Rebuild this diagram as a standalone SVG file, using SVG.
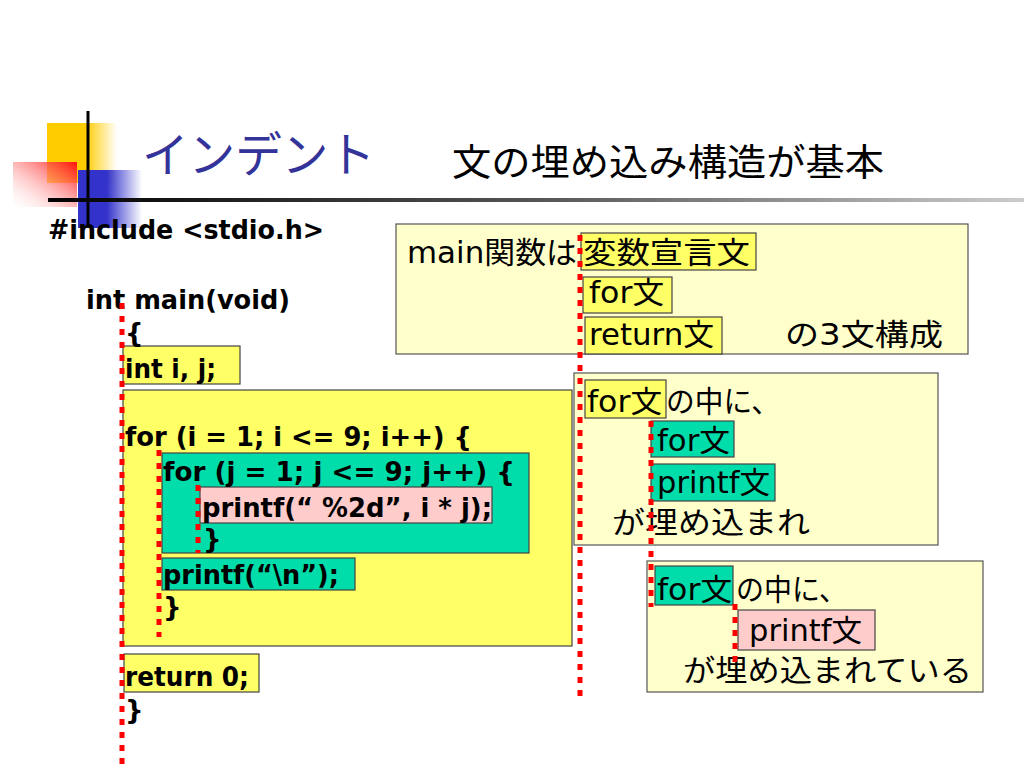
<svg xmlns="http://www.w3.org/2000/svg" width="1024" height="768" viewBox="0 0 1024 768">
<defs>
<linearGradient id="gY" x1="0" y1="0" x2="1" y2="0"><stop offset="0.55" stop-color="#FFCC00"/><stop offset="1" stop-color="#FFCC00" stop-opacity="0"/></linearGradient>
<linearGradient id="gR" x1="1" y1="0" x2="0" y2="1"><stop offset="0" stop-color="#FF1010"/><stop offset="1" stop-color="#FFFFFF" stop-opacity="0.2"/></linearGradient>
<linearGradient id="gB" x1="0" y1="0" x2="1" y2="0"><stop offset="0.45" stop-color="#3333CC"/><stop offset="1" stop-color="#3333CC" stop-opacity="0"/></linearGradient>
<linearGradient id="gL" x1="0" y1="0" x2="1" y2="0"><stop offset="0" stop-color="#000000"/><stop offset="0.5" stop-color="#555555"/><stop offset="1" stop-color="#CCCCCC"/></linearGradient>
<style>
.code{font-family:"DejaVu Sans","Liberation Sans",sans-serif;font-weight:bold;font-size:26px;fill:#000}
.jp{font-family:"DejaVu Sans","Noto Sans CJK JP",sans-serif;font-size:30px;fill:#000}
.jpo{font-family:"Noto Sans CJK JP",sans-serif;font-size:30px;fill:#000}
.note{fill:#FFFFCC;stroke:#555;stroke-width:1.2}
.yel{fill:#FFFF66;stroke:#444;stroke-width:1.2}
.grn{fill:#00DDAA;stroke:#444;stroke-width:1.2}
.pnk{fill:#FFCCCC;stroke:#444;stroke-width:1.2}
.dot{stroke:#FF0000;stroke-width:5;stroke-dasharray:6 7;fill:none}
</style>
</defs>
<rect width="1024" height="768" fill="#FFFFFF"/>

<g id="title-deco">
<rect x="47" y="123" width="70" height="60" fill="url(#gY)"/>
<rect x="78" y="170" width="64" height="58" fill="url(#gB)"/>
<rect x="13" y="162" width="64" height="45" fill="url(#gR)"/>
<line x1="88" y1="111" x2="88" y2="225" stroke="#000" stroke-width="3"/>
<rect x="48" y="198" width="976" height="4" fill="url(#gL)"/>
</g>
<g id="title">
<text x="142" y="172" font-family="'Noto Sans CJK JP',sans-serif" font-size="48" fill="#333399" textLength="233" lengthAdjust="spacingAndGlyphs">インデント</text>
<text x="452" y="176" font-family="'Noto Sans CJK JP',sans-serif" font-size="37" fill="#000" textLength="432" lengthAdjust="spacingAndGlyphs">文の埋め込み構造が基本</text>
</g>

<g id="code">
<rect class="yel" x="123" y="346" width="117" height="38"/>
<rect class="yel" x="123" y="390" width="449" height="256"/>
<rect class="grn" x="162" y="453" width="367" height="100"/>
<rect class="pnk" x="200" y="487" width="292" height="36"/>
<rect class="grn" x="162" y="558" width="193" height="32"/>
<rect class="yel" x="124" y="654" width="135" height="38"/>
<text class="code" x="48" y="239" textLength="276" lengthAdjust="spacingAndGlyphs">#include &lt;stdio.h&gt;</text>
<text class="code" x="86" y="309" textLength="204" lengthAdjust="spacingAndGlyphs">int main(void)</text>
<text class="code" x="125" y="342">{</text>
<text class="code" x="125" y="378" textLength="91" lengthAdjust="spacingAndGlyphs">int i, j;</text>
<text class="code" x="125" y="446" textLength="347" lengthAdjust="spacingAndGlyphs">for (i = 1; i &lt;= 9; i++) {</text>
<text class="code" x="163" y="481" textLength="352" lengthAdjust="spacingAndGlyphs">for (j = 1; j &lt;= 9; j++) {</text>
<text class="code" x="202" y="517" textLength="290" lengthAdjust="spacingAndGlyphs">printf(“ %2d”, i * j);</text>
<text class="code" x="203" y="548">}</text>
<text class="code" x="163" y="584" textLength="176" lengthAdjust="spacingAndGlyphs">printf(“\n”);</text>
<text class="code" x="163" y="616">}</text>
<text class="code" x="125" y="686" textLength="124" lengthAdjust="spacingAndGlyphs">return 0;</text>
<text class="code" x="125" y="719">}</text>
</g>

<g id="note-main">
<rect class="note" x="396" y="224" width="572" height="130"/>
<rect class="yel" x="581" y="233" width="175" height="37"/>
<rect class="yel" x="583" y="277" width="89" height="36"/>
<rect class="yel" x="585" y="317" width="137" height="37"/>
<text class="jp" x="407" y="263" textLength="170" lengthAdjust="spacingAndGlyphs">main関数は</text>
<text class="jpo" x="583" y="263" textLength="167" lengthAdjust="spacingAndGlyphs">変数宣言文</text>
<text class="jp" x="589" y="303" textLength="75" lengthAdjust="spacingAndGlyphs">for文</text>
<text class="jp" x="589" y="345" textLength="125" lengthAdjust="spacingAndGlyphs">return文</text>
<text class="jp" x="785" y="345" textLength="158" lengthAdjust="spacingAndGlyphs">の3文構成</text>
</g>

<g id="note-for1">
<rect class="note" x="574" y="373" width="364" height="172"/>
<rect class="yel" x="585" y="380" width="81" height="38"/>
<rect class="grn" x="651" y="421" width="83" height="36"/>
<rect class="grn" x="651" y="464" width="124" height="37"/>
<text class="jp" x="587" y="412" textLength="75" lengthAdjust="spacingAndGlyphs">for文</text>
<text class="jpo" x="666" y="412" textLength="114" lengthAdjust="spacingAndGlyphs">の中に、</text>
<text class="jp" x="657" y="451" textLength="73" lengthAdjust="spacingAndGlyphs">for文</text>
<text class="jp" x="657" y="493" textLength="113" lengthAdjust="spacingAndGlyphs">printf文</text>
<text class="jpo" x="612" y="533" textLength="198" lengthAdjust="spacingAndGlyphs">が埋め込まれ</text>
</g>

<g id="note-for2">
<rect class="note" x="647" y="561" width="336" height="131"/>
<rect class="grn" x="655" y="566" width="78" height="39"/>
<rect class="pnk" x="738" y="610" width="137" height="40"/>
<text class="jp" x="657" y="600" textLength="75" lengthAdjust="spacingAndGlyphs">for文</text>
<text class="jpo" x="736" y="600" textLength="111" lengthAdjust="spacingAndGlyphs">の中に、</text>
<text class="jp" x="749" y="641" textLength="113" lengthAdjust="spacingAndGlyphs">printf文</text>
<text class="jpo" x="683" y="681" textLength="289" lengthAdjust="spacingAndGlyphs">が埋め込まれている</text>
</g>

<g id="connectors">
<line class="dot" x1="122" y1="303" x2="122" y2="768"/>
<line class="dot" x1="159" y1="450" x2="159" y2="637"/>
<line class="dot" x1="198" y1="485" x2="198" y2="553"/>
<line class="dot" x1="580" y1="235" x2="580" y2="700"/>
<line class="dot" x1="651" y1="421" x2="651" y2="607"/>
<line class="dot" x1="735" y1="604" x2="735" y2="664"/>
</g>
</svg>
